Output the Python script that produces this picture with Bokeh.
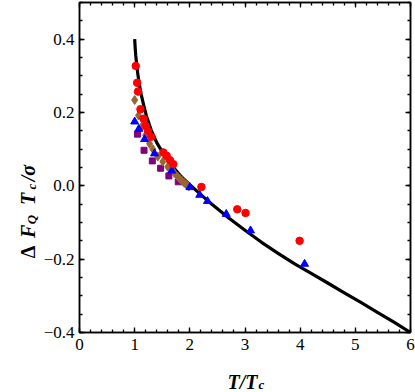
import math
from bokeh.plotting import figure
from bokeh.models import Range1d, LinearAxis, FixedTicker
from bokeh.layouts import column, row
from bokeh.core.properties import value
from bokeh.embed import file_html
from bokeh.resources import INLINE

# ---------------- data ----------------
curve_t = [1.00, 1.01, 1.02, 1.04, 1.06, 1.09, 1.12, 1.16, 1.21, 1.30, 1.40, 1.52, 1.67, 1.85,
           2.00, 2.20, 2.40, 2.70, 3.00, 3.30, 3.60, 3.90, 4.20, 4.50, 4.80, 5.10, 5.40, 5.70, 6.00]
curve_y = [0.400, 0.375, 0.355, 0.325, 0.302, 0.272, 0.248, 0.222, 0.192, 0.152, 0.118, 0.088,
           0.056, 0.024, 0.003, -0.024, -0.050, -0.087, -0.121, -0.154, -0.184, -0.213, -0.239,
           -0.265, -0.292, -0.318, -0.345, -0.372, -0.400]

red_t = [1.02, 1.045, 1.06, 1.105, 1.16, 1.20, 1.24, 1.30, 1.52, 1.58, 1.64, 1.70, 2.21, 2.86, 3.01, 3.99]
red_y = [0.327, 0.281, 0.257, 0.209, 0.183, 0.163, 0.150, 0.134, 0.091, 0.082, 0.070, 0.059,
         -0.003, -0.064, -0.074, -0.150]

brown_t = [1.00, 1.07, 1.13, 1.20, 1.27, 1.33, 1.42, 1.51, 1.60, 1.72, 1.78, 1.82, 1.86, 1.90, 1.94, 1.98]
brown_y = [0.234, 0.192, 0.162, 0.138, 0.115, 0.100, 0.080, 0.066, 0.052, 0.035, 0.025, 0.019,
           0.013, 0.008, 0.003, -0.002]

blue_t = [1.00, 1.075, 1.18, 1.36, 1.67, 2.00, 2.18, 2.32, 2.66, 3.10, 4.08]
blue_y = [0.175, 0.155, 0.127, 0.088, 0.041, -0.004, -0.025, -0.042, -0.077, -0.122, -0.213]

purple_t = [1.05, 1.17, 1.32, 1.47, 1.62, 1.79]
purple_y = [0.141, 0.097, 0.068, 0.048, 0.027, 0.011]

x_ticks = [0, 1, 2, 3, 4, 5, 6]
x_minor = [round(0.2 * i, 2) for i in range(31)]
y_ticks = [-0.4, -0.2, 0, 0.2, 0.4]
y_tick_labels = ["\u22120.4", "\u22120.2", "0.0", "0.2", "0.4"]
y_minor = [round(-0.4 + 0.05 * i, 2) for i in range(19)]

X_RANGE = (0, 6)
Y_RANGE = (-0.4, 0.5)

SERIF = "Liberation Serif"

# ---------------- layout sizes ----------------
YT_W = 40          # left strip for the rotated y title
TOP_H = 360        # height of the row holding the plot
XT_H = 32          # bottom strip for the x title
TOTAL_W = 415

p = figure(width=TOTAL_W - YT_W, height=TOP_H,
           x_range=Range1d(*X_RANGE), y_range=Range1d(*Y_RANGE),
           output_backend="svg", toolbar_location=None,
           min_border_left=38, min_border_right=5, min_border_top=2, min_border_bottom=28)
p.grid.visible = False
p.outline_line_color = "black"
p.outline_line_width = 1.5

def style_axis(ax, labels=True):
    ax.major_tick_in = 5
    ax.major_tick_out = 0
    ax.minor_tick_in = 3
    ax.minor_tick_out = 0
    ax.axis_line_width = 1.5
    ax.axis_line_color = "black"
    ax.major_tick_line_color = "black"
    ax.minor_tick_line_color = "black"
    ax.major_tick_line_width = 1.3
    ax.minor_tick_line_width = 1.3
    ax.major_label_text_font = SERIF
    ax.major_label_text_color = "black"
    if labels:
        ax.major_label_text_font_size = "17px"
    else:
        ax.major_label_text_font_size = "0px"
        ax.major_label_standoff = 0

p.xaxis.ticker = FixedTicker(ticks=x_ticks, minor_ticks=x_minor)
p.yaxis.ticker = FixedTicker(ticks=y_ticks, minor_ticks=y_minor)
style_axis(p.xaxis[0])
style_axis(p.yaxis[0])
p.xaxis[0].major_label_standoff = 6
p.yaxis[0].major_label_standoff = 5
p.yaxis[0].major_label_overrides = {t: s for t, s in zip(y_ticks, y_tick_labels)}

top_ax = LinearAxis(ticker=FixedTicker(ticks=x_ticks, minor_ticks=x_minor))
right_ax = LinearAxis(ticker=FixedTicker(ticks=y_ticks, minor_ticks=y_minor))
style_axis(top_ax, labels=False)
style_axis(right_ax, labels=False)
top_ax.major_label_overrides = {t: "" for t in x_ticks}
right_ax.major_label_overrides = {t: "" for t in y_ticks}
p.add_layout(top_ax, "above")
p.add_layout(right_ax, "right")

# ---------------- glyphs ----------------
p.line(curve_t, curve_y, line_color="black", line_width=3.2, line_join="round")
p.scatter(purple_t, purple_y, marker="square", size=6, fill_color="#800080", line_color="#800080")
p.scatter(brown_t, brown_y, marker="diamond", size=9, fill_color="#996633", line_color="#996633")
p.scatter(blue_t, blue_y, marker="triangle", size=8, fill_color="#0000FF", line_color="#0000FF")
p.scatter(red_t, red_y, marker="circle", size=7.5, fill_color="#FF0000", line_color="#FF0000")

# ---------------- title strips (pixel-space canvases) ----------------
def strip(w, h):
    f = figure(width=w, height=h, x_range=Range1d(0, w), y_range=Range1d(0, h),
               output_backend="svg", toolbar_location=None,
               x_axis_location=None, y_axis_location=None, min_border=0)
    f.grid.visible = False
    f.outline_line_color = None
    return f

def put(f, h, x, y_from_top, txt, size, style="bold italic", angle=0.0, align="left"):
    f.text(x=[x], y=[h - y_from_top], text=[txt], text_font=value(SERIF),
           text_font_size=size, text_font_style=style, text_color="black",
           text_align=align, text_baseline="alphabetic", angle=angle)

# y title: Δ F_Q T_c/σ, rotated, reading bottom-to-top
yt = strip(YT_W, TOP_H)
A = math.pi / 2
put(yt, TOP_H, 27, 279, "\u0394", "20px", style="bold", angle=A)
put(yt, TOP_H, 27, 257, "F", "20px", angle=A)
put(yt, TOP_H, 31, 242, "Q", "13px", angle=A)
put(yt, TOP_H, 27, 221, "T", "20px", angle=A)
put(yt, TOP_H, 31, 204, "c", "13px", angle=A)
put(yt, TOP_H, 27, 195, "/\u03c3", "20px", angle=A)

# x title: T/T_c
xt = strip(TOTAL_W, XT_H)
put(xt, XT_H, 257, 21, "T/T", "20px", align="right")
put(xt, XT_H, 258, 24, "c", "13px")

layout = column(row(yt, p, spacing=0), xt, spacing=0)

open("out.html", "w").write(file_html(layout, INLINE))
